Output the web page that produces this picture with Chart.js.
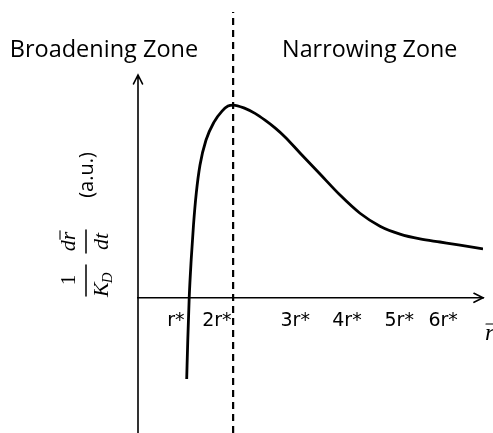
<!DOCTYPE html>
<html>
<head>
<meta charset="utf-8">
<script src="https://cdn.jsdelivr.net/npm/chart.js@4.4.0/dist/chart.umd.min.js"></script>
<style>
  html, body { margin: 0; padding: 0; background: #fff; }
  #wrap { width: 493px; height: 433px; position: relative; }
</style>
</head>
<body>
<div id="wrap"><canvas id="myChart"></canvas></div>
<script>
// Growth-rate curve (x along r-bar, y in a.u.)
const curveX = [0.988, 1.01, 1.039, 1.079, 1.126, 1.183, 1.258, 1.38, 1.542, 1.705, 1.826, 1.93,
  2.171, 2.374, 2.577, 2.78, 2.983, 3.287, 3.693, 4.099, 4.504, 4.91, 5.316, 5.722, 6.128, 6.534, 7.0];
const curveY = [-4.2, -2.19, 0, 1.96, 3.77, 5.43, 6.88, 8.17, 9.1, 9.67, 9.93, 9.98,
  9.81, 9.55, 9.2, 8.8, 8.33, 7.5, 6.41, 5.32, 4.38, 3.71, 3.3, 3.05, 2.89, 2.73, 2.53];

// Boundary between the two zones (the peak)
const zoneBoundaryX = 1.93;

// x-axis tick labels
const tickValues = [0.77, 1.6, 3.19, 4.24, 5.3, 6.19];
const tickLabels = ["r*", "2r*", "3r*", "4r*", "5r*", "6r*"];

// axis ranges
const xMin = 0, xMax = 7;
const yMin = -7, yMax = 14.8;
const yArrowTop = 11.54;

const curvePoints = curveX.map((v, i) => ({ x: v, y: curveY[i] }));

// Axes arrows, zone labels and the fraction-style y title
const sketchPlugin = {
  id: "sketch",
  afterDraw(chart) {
    const { ctx, chartArea, scales } = chart;
    const x0 = scales.x.getPixelForValue(0);
    const y0 = scales.y.getPixelForValue(0);
    const yTop = scales.y.getPixelForValue(yArrowTop);
    const xr = chartArea.right;
    const dashX = scales.x.getPixelForValue(zoneBoundaryX);

    ctx.save();
    ctx.strokeStyle = "#000";
    ctx.fillStyle = "#000";
    ctx.lineWidth = 1.6;
    ctx.lineCap = "round";
    ctx.beginPath();
    ctx.moveTo(x0, chartArea.bottom);
    ctx.lineTo(x0, yTop);
    ctx.moveTo(x0 - 4.5, yTop + 9);
    ctx.lineTo(x0, yTop);
    ctx.lineTo(x0 + 4.5, yTop + 9);
    ctx.moveTo(xr - 9, y0 - 4.5);
    ctx.lineTo(xr, y0);
    ctx.lineTo(xr - 9, y0 + 4.5);
    ctx.stroke();

    // zone labels
    ctx.textBaseline = "alphabetic";
    ctx.font = '23.5px "Open Sans"';
    ctx.textAlign = "right";
    ctx.fillText("Broadening Zone", dashX - 35, 57);
    ctx.font = '23.3px "Open Sans"';
    ctx.textAlign = "left";
    ctx.fillText("Narrowing Zone", dashX + 49, 57);

    // r-bar label at end of x axis
    ctx.font = 'italic 24px "Liberation Serif"';
    ctx.fillText("r", xr + 2, 340);
    ctx.lineWidth = 1.2;
    ctx.beginPath();
    ctx.moveTo(xr + 3, 324);
    ctx.lineTo(xr + 11, 324);
    ctx.stroke();

    // y title, rotated
    ctx.translate(86, 0);
    ctx.rotate(-Math.PI / 2);
    // local (a, b) -> page (86 + b, -a)
    ctx.lineWidth = 1.5;
    ctx.beginPath();
    ctx.moveTo(-296, 0); ctx.lineTo(-265, 0);
    ctx.moveTo(-253, 0); ctx.lineTo(-230, 0);
    ctx.stroke();

    ctx.textAlign = "center";
    ctx.font = '21px "Liberation Serif"';
    ctx.fillText("1", -280, -11);

    ctx.textAlign = "left";
    ctx.font = 'italic 22px "Liberation Serif"';
    ctx.fillText("K", -297, 22);
    const kw = ctx.measureText("K").width;
    ctx.font = 'italic 15px "Liberation Serif"';
    ctx.fillText("D", -297 + kw - 1, 26);

    ctx.font = 'italic 22px "Liberation Serif"';
    const dw = ctx.measureText("d").width;
    const rw = ctx.measureText("r").width;
    const a0 = -241.5 - (dw + rw) / 2;
    ctx.fillText("d", a0, -11);
    ctx.fillText("r", a0 + dw, -11);
    ctx.lineWidth = 1.1;
    ctx.beginPath();
    ctx.moveTo(a0 + dw + 1, -26);
    ctx.lineTo(a0 + dw + rw + 1, -26);
    ctx.stroke();
    ctx.textAlign = "center";
    ctx.fillText("dt", -241.5, 22);

    ctx.font = '20px "Open Sans"';
    ctx.textBaseline = "middle";
    ctx.fillText("(a.u.)", -175, 1);
    ctx.restore();
  }
};

const config = {
  type: "line",
  data: {
    datasets: [
      {
        label: "growth rate",
        data: curvePoints,
        borderColor: "#000",
        borderWidth: 2.8,
        pointRadius: 0,
        cubicInterpolationMode: "monotone",
        fill: false,
      },
      {
        label: "zone boundary",
        data: [
          { x: zoneBoundaryX, y: yMin },
          { x: zoneBoundaryX, y: yMax },
        ],
        borderColor: "#000",
        borderWidth: 2.2,
        borderDash: [7, 5],
        pointRadius: 0,
        fill: false,
      },
    ],
  },
  options: {
    responsive: true,
    maintainAspectRatio: false,
    animation: false,
    layout: { padding: { left: 138, top: 12, right: 10, bottom: 0 } },
    plugins: {
      legend: { display: false },
      tooltip: { enabled: false },
    },
    scales: {
      x: {
        type: "linear",
        min: xMin,
        max: xMax,
        position: { y: 0 },
        grid: { display: false, drawTicks: false },
        border: { display: true, color: "#000", width: 1.6 },
        afterBuildTicks: (scale) => {
          scale.ticks = tickValues.map((v) => ({ value: v }));
        },
        ticks: {
          autoSkip: false,
          maxRotation: 0,
          padding: 12,
          color: "#000",
          font: { family: "DejaVu Sans", size: 19 },
          callback: (value, index) => tickLabels[index],
        },
      },
      y: {
        type: "linear",
        min: yMin,
        max: yMax,
        display: false,
      },
    },
  },
  plugins: [sketchPlugin],
};

const ctx = document.getElementById("myChart").getContext("2d");
const myChart = new Chart(ctx, config);
</script>
</body>
</html>
